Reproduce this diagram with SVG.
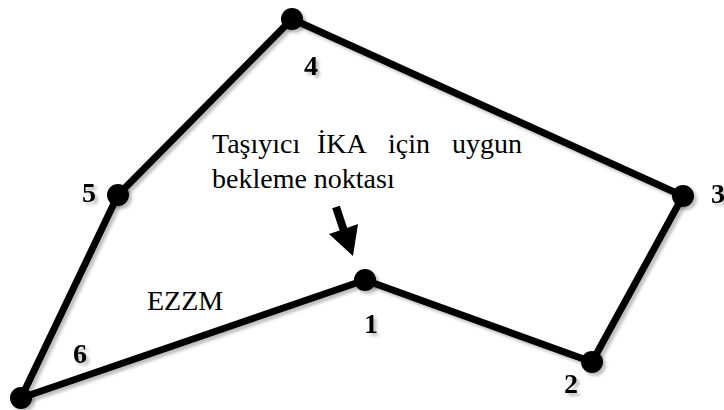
<svg xmlns="http://www.w3.org/2000/svg" width="724" height="410" viewBox="0 0 724 410">
  <defs>
    <filter id="shadow" x="-10%" y="-10%" width="130%" height="130%">
      <feDropShadow dx="3" dy="3" stdDeviation="1.5" flood-color="#000" flood-opacity="0.25"/>
    </filter>
    <style>
      .edge { stroke: #000; stroke-width: 7; stroke-linecap: round; fill: none; }
      .node { fill: #000; }
      .num { font-family: "Liberation Serif", "Times New Roman", serif; font-weight: bold; font-size: 28px; fill: #000; }
      .txt { font-family: "Liberation Serif", "Times New Roman", serif; font-size: 28px; fill: #000; }
    </style>
  </defs>
  <rect width="724" height="410" fill="#fff"/>
  <g id="connectors" filter="url(#shadow)">
    <line class="edge" x1="292" y1="19" x2="683" y2="196"/>
    <line class="edge" x1="683" y1="196" x2="592" y2="362"/>
    <line class="edge" x1="592" y1="362" x2="365" y2="280"/>
    <line class="edge" x1="365" y1="280" x2="21" y2="398"/>
    <line class="edge" x1="21" y1="398" x2="118" y2="195"/>
    <line class="edge" x1="118" y1="195" x2="292" y2="19"/>
  </g>
  <g id="node1" filter="url(#shadow)"><circle class="node" cx="365" cy="280" r="11"/><text class="num" x="364" y="333">1</text></g>
  <g id="node2" filter="url(#shadow)"><circle class="node" cx="592" cy="362" r="11"/><text class="num" x="564" y="393">2</text></g>
  <g id="node3" filter="url(#shadow)"><circle class="node" cx="683" cy="196" r="11"/><text class="num" x="711" y="203">3</text></g>
  <g id="node4" filter="url(#shadow)"><circle class="node" cx="292" cy="19" r="11"/><text class="num" x="304" y="75">4</text></g>
  <g id="node5" filter="url(#shadow)"><circle class="node" cx="118" cy="195" r="11"/><text class="num" x="82" y="202">5</text></g>
  <g id="node6" filter="url(#shadow)"><circle class="node" cx="21" cy="398" r="11"/><text class="num" x="73" y="363">6</text></g>
  <g id="annotation">
    <text class="txt" x="212" y="153">Taşıyıcı</text>
    <text class="txt" x="317" y="153">İKA</text>
    <text class="txt" x="388" y="153">için</text>
    <text class="txt" x="452" y="153">uygun</text>
    <text class="txt" x="212" y="188">bekleme noktası</text>
    <g id="arrow">
      <line x1="336" y1="207" x2="344" y2="231" stroke="#000" stroke-width="8"/>
      <polygon points="353,256 329,234 344,229 358,224" fill="#000"/>
    </g>
  </g>
  <text class="txt" x="147" y="310">EZZM</text>
</svg>
